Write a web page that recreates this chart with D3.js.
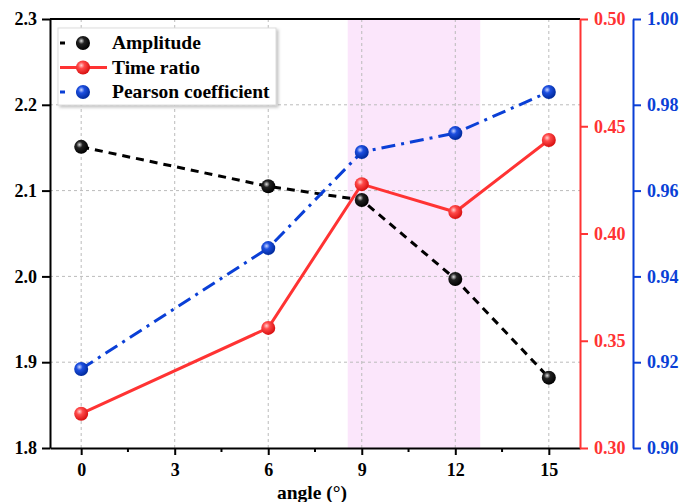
<!DOCTYPE html>
<html>
<head>
<meta charset="utf-8">
<script src="https://cdn.jsdelivr.net/npm/d3@7"></script>
<style>
  body { margin: 0; background: #fff; }
  svg text { font-family: "Liberation Serif", "Times New Roman", serif; font-weight: bold; }
</style>
</head>
<body>
<svg id="chart" width="680" height="502"></svg>
<script>
// Data
const angles = [0, 6, 9, 12, 15];
const amplitude = [2.151, 2.105, 2.089, 1.997, 1.882];
const timeRatio = [0.316, 0.356, 0.423, 0.410, 0.4436];
const pearson = [0.9184, 0.9466, 0.969, 0.9734, 0.983];
const xTicks = [0, 3, 6, 9, 12, 15];
const leftTicks = [1.8, 1.9, 2.0, 2.1, 2.2, 2.3];
const redTicks = [0.30, 0.35, 0.40, 0.45, 0.50];
const blueTicks = [0.90, 0.92, 0.94, 0.96, 0.98, 1.00];
const band = [8.55, 12.8];

const svg = d3.select("#chart");
const mLeft = 50, mRight = 580, mTop = 19, mBottom = 448;
const blueX = 633;
const FONT = "Liberation Serif, Times New Roman, serif";

const x = d3.scaleLinear().domain([-1, 16]).range([mLeft, mRight]);
const yL = d3.scaleLinear().domain([1.8, 2.3]).range([mBottom, mTop]);
const yR = d3.scaleLinear().domain([0.30, 0.50]).range([mBottom, mTop]);
const yB = d3.scaleLinear().domain([0.90, 1.00]).range([mBottom, mTop]);

const RED = "#ff3333", BLUE = "#0a3fd6";

// gradients for spheres
const defs = svg.append("defs");
function sphere(id, light, mid, dark) {
  const g = defs.append("radialGradient").attr("id", id)
    .attr("cx", "38%").attr("cy", "35%").attr("r", "65%");
  g.append("stop").attr("offset", "0%").attr("stop-color", light);
  g.append("stop").attr("offset", "35%").attr("stop-color", mid);
  g.append("stop").attr("offset", "100%").attr("stop-color", dark);
}
sphere("gK", "#ddd", "#222", "#000");
sphere("gR", "#ffd0d0", "#ff4a4a", "#d81010");
sphere("gB", "#c8d4ff", "#1d4fe0", "#002a9c");
const sh = defs.append("filter").attr("id", "shadow").attr("x", "-10%").attr("y", "-10%").attr("width", "130%").attr("height", "130%");
sh.append("feDropShadow").attr("dx", 2).attr("dy", 2).attr("stdDeviation", 1.5).attr("flood-color", "#999").attr("flood-opacity", 0.6);

// shaded band
svg.append("rect")
  .attr("x", x(band[0])).attr("y", mTop)
  .attr("width", x(band[1]) - x(band[0])).attr("height", mBottom - mTop)
  .attr("fill", "#fbe6fb");

// grid
svg.append("g").selectAll("line").data(xTicks).join("line")
  .attr("x1", d => x(d)).attr("x2", d => x(d)).attr("y1", mTop).attr("y2", mBottom)
  .attr("stroke", "#bbb").attr("stroke-width", 1).attr("stroke-dasharray", "3,3");
svg.append("g").selectAll("line").data(leftTicks.slice(1, -1)).join("line")
  .attr("x1", mLeft).attr("x2", mRight).attr("y1", d => yL(d)).attr("y2", d => yL(d))
  .attr("stroke", "#bbb").attr("stroke-width", 1).attr("stroke-dasharray", "3,3");

// top border
svg.append("line").attr("x1", mLeft).attr("x2", mRight).attr("y1", mTop).attr("y2", mTop)
  .attr("stroke", "#000").attr("stroke-width", 2);

// axes
function styleAxis(g, color) {
  g.attr("font-family", FONT).attr("font-size", 18);
  g.select(".domain").attr("stroke", color).attr("stroke-width", 2);
  g.selectAll(".tick line").attr("stroke", color).attr("stroke-width", 2);
  g.selectAll(".tick text").attr("fill", color).style("font-size", "18px");
}

const xAxis = svg.append("g").attr("transform", `translate(0,${mBottom})`)
  .call(d3.axisBottom(x).tickValues(xTicks).tickSize(7).tickSizeOuter(0).tickPadding(8));
styleAxis(xAxis, "#000");
svg.append("g").attr("transform", `translate(0,${mBottom})`).selectAll("line")
  .data(xTicks.slice(0, -1).map(d => d + 1.5)).join("line")
  .attr("x1", d => x(d)).attr("x2", d => x(d)).attr("y1", 0).attr("y2", 4)
  .attr("stroke", "#000").attr("stroke-width", 2);

const lAxis = svg.append("g").attr("transform", `translate(${mLeft},0)`)
  .call(d3.axisLeft(yL).tickValues(leftTicks).tickFormat(d3.format(".1f")).tickSize(8).tickSizeOuter(0).tickPadding(5));
styleAxis(lAxis, "#000");

const rAxis = svg.append("g").attr("transform", `translate(${mRight},0)`)
  .call(d3.axisRight(yR).tickValues(redTicks).tickFormat(d3.format(".2f")).tickSize(8).tickSizeOuter(0).tickPadding(6));
styleAxis(rAxis, RED);

const bAxis = svg.append("g").attr("transform", `translate(${blueX},0)`)
  .call(d3.axisRight(yB).tickValues(blueTicks).tickFormat(d3.format(".2f")).tickSize(8).tickSizeOuter(0).tickPadding(6));
styleAxis(bAxis, BLUE);

// series
const series = [
  { name: "Amplitude", vals: amplitude, y: yL, color: "#000", dash: "8,6", grad: "gK" },
  { name: "Time ratio", vals: timeRatio, y: yR, color: RED, dash: null, grad: "gR" },
  { name: "Pearson coefficient", vals: pearson, y: yB, color: BLUE, dash: "14,6,3,6", grad: "gB" }
];

series.forEach(s => {
  const line = d3.line().x((d, i) => x(angles[i])).y(d => s.y(d));
  svg.append("path").datum(s.vals)
    .attr("fill", "none").attr("stroke", s.color).attr("stroke-width", 3)
    .attr("stroke-dasharray", s.dash).attr("d", line);
});
series.forEach(s => {
  svg.append("g").selectAll("circle").data(s.vals).join("circle")
    .attr("cx", (d, i) => x(angles[i])).attr("cy", d => s.y(d)).attr("r", 7)
    .attr("fill", `url(#${s.grad})`);
});

// legend
const lg = svg.append("g");
lg.append("rect").attr("x", 58).attr("y", 28).attr("width", 218).attr("height", 77)
  .attr("fill", "#fff").attr("stroke", "#ddd").attr("filter", "url(#shadow)");
series.forEach((s, i) => {
  const yy = 43 + i * 24.5;
  lg.append("line").attr("x1", 60).attr("x2", 107).attr("y1", yy).attr("y2", yy)
    .attr("stroke", s.color).attr("stroke-width", 3)
    .attr("stroke-dasharray", s.dash ? "5,11,8,40" : null);
  lg.append("circle").attr("cx", 83).attr("cy", yy).attr("r", 7).attr("fill", `url(#${s.grad})`);
  lg.append("text").attr("x", 112).attr("y", yy + 6).attr("font-family", FONT)
    .style("font-size", "19.5px").text(s.name);
});

// x label
svg.append("text").attr("x", 312).attr("y", 499).attr("text-anchor", "middle").attr("font-family", FONT)
  .style("font-size", "19.5px").text("angle (°)");
</script>
</body>
</html>
